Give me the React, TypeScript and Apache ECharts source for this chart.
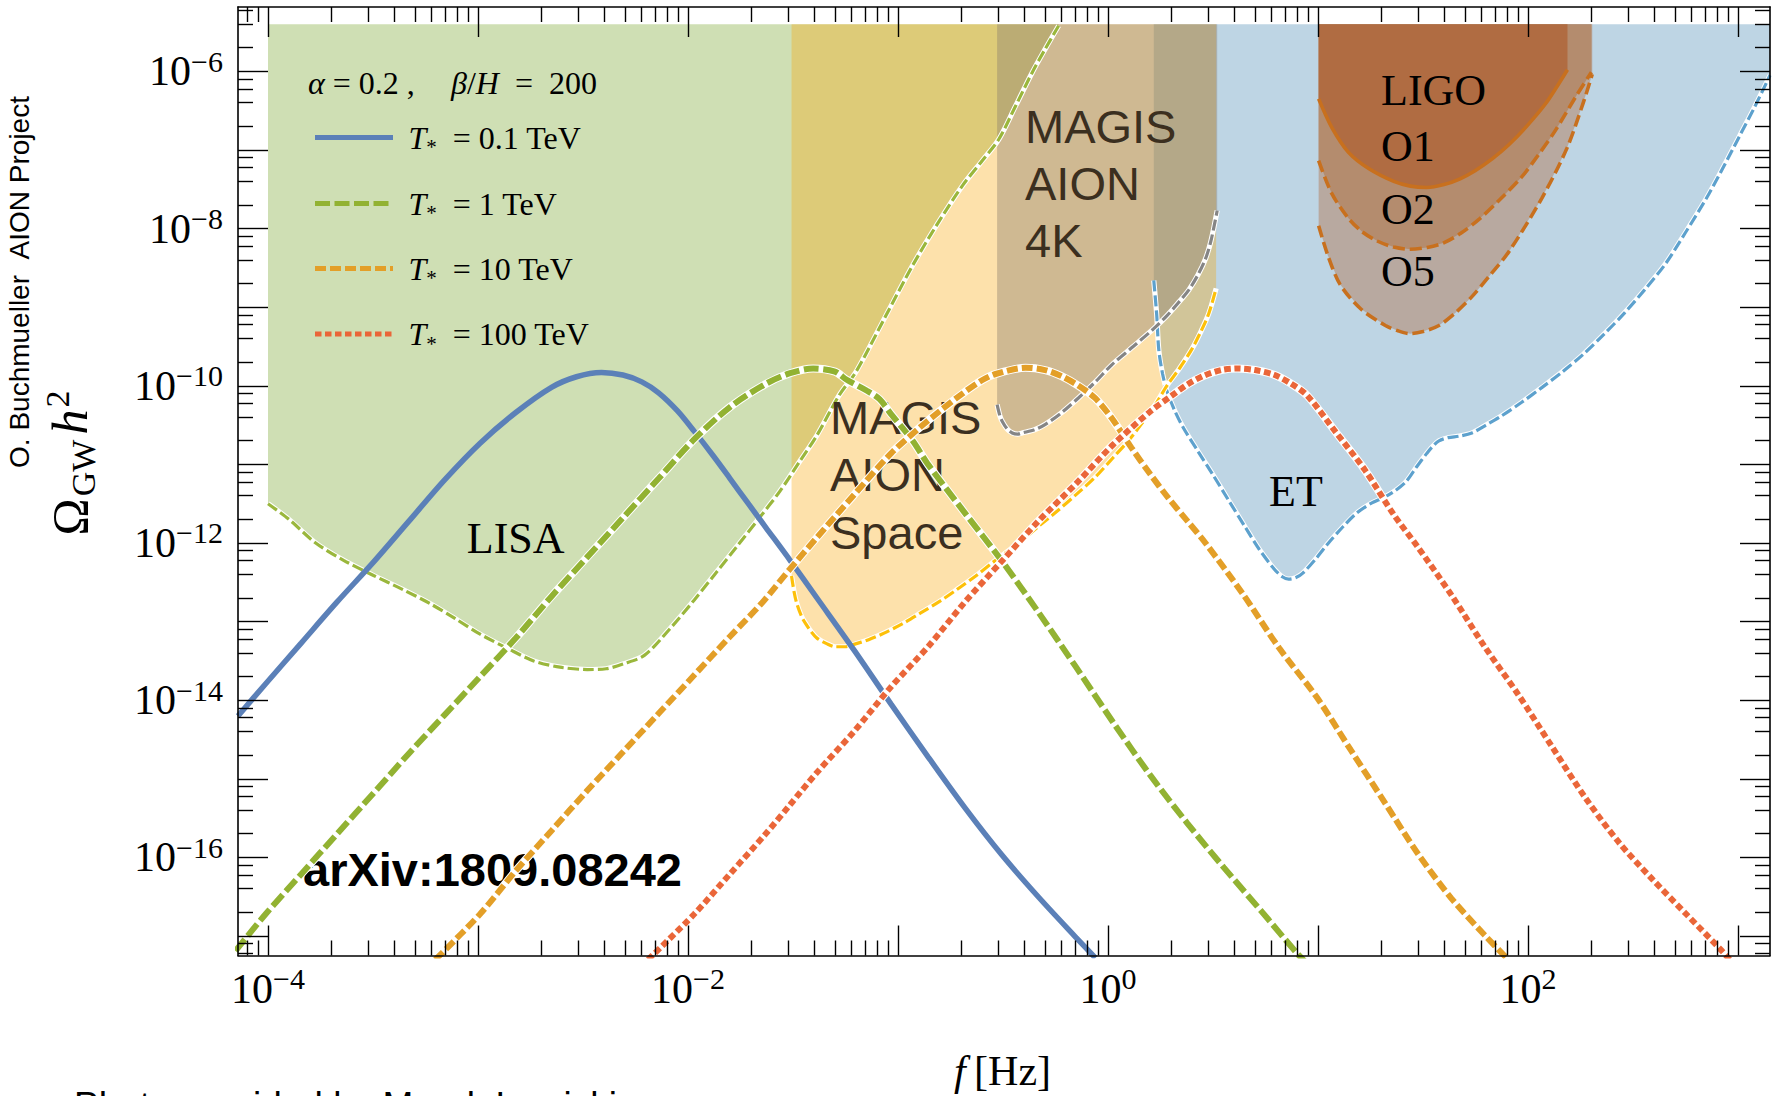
import { useEffect, useRef } from 'react';
import * as echarts from 'echarts';

// Both axes are in log10 units: x = log10(f / Hz), y = log10(Omega_GW h^2)
const LOG_F_MIN = -4.1429;
const LOG_F_MAX = 3.1524;
const LOG_OMEGA_MIN = -17.248;
const LOG_OMEGA_MAX = -5.181;
// upper edge of the shaded sensitivity regions
const SENS_TOP = -5.4;

// tick positions (decades) and labelled decades
const xDecades = [-4, -3, -2, -1, 0, 1, 2, 3];
const xLabelDecades = [-4, -2, 0, 2];
const yDecades = [-17, -16, -15, -14, -13, -12, -11, -10, -9, -8, -7, -6];
const yLabelDecades = [-16, -14, -12, -10, -8, -6];
const xMinorMultiples = [2, 3, 4, 5, 6, 7, 8, 9];
const yMinorMultiples = [2, 4, 6, 8];

// ---- sensitivity curves: [log10 f, log10 Omega h^2] ----
const lisaCurve = [
  [-4.0, -11.5], [-3.9, -11.7], [-3.773, -12.0], [-3.64, -12.22], [-3.5, -12.41], [-3.36, -12.59],
  [-3.229, -12.77], [-3.11, -12.96], [-2.99, -13.16], [-2.86, -13.34], [-2.735, -13.5], [-2.61, -13.58],
  [-2.48, -13.61], [-2.39, -13.6], [-2.31, -13.54], [-2.208, -13.43], [-2.089, -13.1], [-1.97, -12.725],
  [-1.87, -12.39], [-1.766, -12.04], [-1.66, -11.68], [-1.562, -11.34], [-1.47, -10.97], [-1.386, -10.63],
  [-1.28, -10.12], [-1.199, -9.818], [-1.06, -9.12], [-0.93, -8.467], [-0.81, -7.93], [-0.693, -7.454],
  [-0.6, -7.14], [-0.52, -6.864], [-0.44, -6.44], [-0.362, -6.02], [-0.3, -5.72], [-0.235, -5.42],
];

const etCurve = [
  [0.218, -8.66], [0.232, -9.1], [0.242, -9.547], [0.26, -9.85], [0.281, -10.07], [0.32, -10.33],
  [0.36, -10.54], [0.43, -10.84], [0.497, -11.12], [0.575, -11.46], [0.654, -11.8], [0.72, -12.08],
  [0.791, -12.33], [0.83, -12.43], [0.86, -12.46], [0.895, -12.44], [0.929, -12.38], [0.99, -12.2],
  [1.047, -12.01], [1.12, -11.79], [1.184, -11.62], [1.25, -11.5], [1.321, -11.41], [1.37, -11.33],
  [1.419, -11.22], [1.47, -11.03], [1.518, -10.86], [1.55, -10.76], [1.576, -10.7], [1.62, -10.66],
  [1.674, -10.64], [1.733, -10.6], [1.8, -10.5], [1.87, -10.39], [1.97, -10.21], [2.067, -10.02],
  [2.165, -9.82], [2.263, -9.6], [2.36, -9.35], [2.459, -9.075], [2.555, -8.78], [2.655, -8.447],
  [2.75, -8.05], [2.851, -7.608], [2.93, -7.22], [3.008, -6.82], [3.08, -6.45], [3.1524, -6.05],
];

const aionSpaceCurve = [
  [-1.507, -12.42], [-1.495, -12.62], [-1.483, -12.76], [-1.46, -12.93], [-1.439, -13.03], [-1.41, -13.14],
  [-1.386, -13.21], [-1.34, -13.28], [-1.298, -13.32], [-1.25, -13.32], [-1.21, -13.29], [-1.14, -13.23],
  [-1.069, -13.15], [-0.98, -13.03], [-0.892, -12.89], [-0.8, -12.74], [-0.716, -12.585], [-0.63, -12.42],
  [-0.54, -12.23], [-0.43, -12.01], [-0.329, -11.785], [-0.24, -11.59], [-0.152, -11.385], [-0.06, -11.16],
  [0.024, -10.915], [0.1, -10.69], [0.175, -10.43], [0.23, -10.22], [0.28, -10.0], [0.34, -9.78],
  [0.4, -9.53], [0.444, -9.3], [0.48, -9.08], [0.515, -8.76],
];

const aion4kCurve = [
  [-0.528, -10.24], [-0.515, -10.38], [-0.504, -10.45], [-0.48, -10.55], [-0.456, -10.6], [-0.43, -10.615],
  [-0.409, -10.6], [-0.35, -10.56], [-0.298, -10.49], [-0.22, -10.34], [-0.141, -10.155], [-0.06, -9.95],
  [0.018, -9.733], [0.12, -9.5], [0.215, -9.28], [0.28, -9.11], [0.333, -8.95], [0.385, -8.78],
  [0.43, -8.58], [0.465, -8.38], [0.49, -8.16], [0.52, -7.77],
];

const ligoO5Curve = [
  [1.003, -7.964], [1.047, -8.342], [1.105, -8.71], [1.203, -9.02], [1.321, -9.233], [1.38, -9.3],
  [1.439, -9.337], [1.5, -9.31], [1.576, -9.233], [1.655, -9.07], [1.733, -8.866], [1.82, -8.59],
  [1.91, -8.29], [2.067, -7.608], [2.185, -6.98], [2.263, -6.4], [2.306, -6.036],
];

const ligoO2Curve = [
  [1.003, -7.136], [1.066, -7.556], [1.145, -7.87], [1.21, -8.04], [1.282, -8.158], [1.36, -8.235],
  [1.439, -8.263], [1.52, -8.24], [1.596, -8.185], [1.68, -8.06], [1.772, -7.87], [1.87, -7.62],
  [1.969, -7.346], [2.05, -7.06], [2.126, -6.77], [2.233, -6.298], [2.302, -6.01],
];

const ligoO1Curve = [
  [1.003, -6.35], [1.066, -6.716], [1.145, -7.03], [1.243, -7.24], [1.361, -7.4], [1.44, -7.46],
  [1.518, -7.477], [1.6, -7.44], [1.674, -7.37], [1.75, -7.26], [1.831, -7.11], [1.91, -6.93],
  [1.988, -6.716], [2.087, -6.4], [2.188, -5.98],
];

// ---- phase-transition spectra, alpha = 0.2, beta/H = 200 ----
const spectrumT01 = [
  [-4.143, -14.2], [-4.011, -13.79], [-3.841, -13.27], [-3.671, -12.75], [-3.5, -12.25], [-3.33, -11.725],
  [-3.16, -11.2], [-2.99, -10.73], [-2.82, -10.34], [-2.65, -10.02], [-2.531, -9.885], [-2.412, -9.83],
  [-2.31, -9.863], [-2.22, -9.95], [-2.14, -10.09], [-2.05, -10.32], [-1.97, -10.58], [-1.88, -10.89],
  [-1.8, -11.18], [-1.71, -11.51], [-1.63, -11.8], [-1.514, -12.22], [-1.386, -12.7], [-1.21, -13.36],
  [-1.033, -14.05], [-0.857, -14.72], [-0.681, -15.37], [-0.505, -15.97], [-0.329, -16.51], [-0.152, -17.02],
  [-0.06, -17.28],
];

const spectrumT1 = [
  [-4.155, -17.19], [-4.011, -16.72], [-3.841, -16.21], [-3.671, -15.7], [-3.5, -15.19], [-3.33, -14.68],
  [-3.16, -14.19], [-2.99, -13.7], [-2.82, -13.21], [-2.65, -12.68], [-2.48, -12.18], [-2.31, -11.68],
  [-2.14, -11.18], [-1.97, -10.68], [-1.8, -10.27], [-1.63, -9.976], [-1.514, -9.84], [-1.404, -9.78],
  [-1.3, -9.82], [-1.246, -9.92], [-1.15, -10.06], [-1.088, -10.17], [-1.033, -10.36], [-0.93, -10.7],
  [-0.857, -11.0], [-0.681, -11.62], [-0.505, -12.23], [-0.329, -12.89], [-0.152, -13.58], [0.024, -14.28],
  [0.2, -14.95], [0.376, -15.56], [0.552, -16.13], [0.729, -16.68], [0.9, -17.22], [0.94, -17.33],
];

const spectrumT10 = [
  [-3.203, -17.3], [-2.99, -16.72], [-2.82, -16.17], [-2.65, -15.66], [-2.48, -15.15], [-2.31, -14.66],
  [-2.14, -14.17], [-1.97, -13.68], [-1.8, -13.19], [-1.647, -12.76], [-1.514, -12.33], [-1.386, -11.93],
  [-1.21, -11.39], [-1.033, -10.86], [-0.9, -10.54], [-0.8, -10.32], [-0.693, -10.1], [-0.6, -9.93],
  [-0.535, -9.85], [-0.393, -9.77], [-0.3, -9.8], [-0.219, -9.88], [-0.14, -10.0], [-0.062, -10.155],
  [0.02, -10.42], [0.112, -10.79], [0.2, -11.12], [0.288, -11.43], [0.381, -11.73], [0.464, -12.0],
  [0.64, -12.64], [0.816, -13.34], [0.996, -13.97], [1.155, -14.63], [1.315, -15.29], [1.475, -15.95],
  [1.635, -16.52], [1.794, -16.99], [1.906, -17.3],
];

const spectrumT100 = [
  [-2.19, -17.3], [-1.97, -16.72], [-1.8, -16.21], [-1.63, -15.7], [-1.514, -15.33], [-1.386, -14.92],
  [-1.21, -14.4], [-1.033, -13.83], [-0.857, -13.32], [-0.681, -12.75], [-0.505, -12.23], [-0.329, -11.715],
  [-0.152, -11.245], [0.024, -10.75], [0.2, -10.33], [0.301, -10.13], [0.38, -9.98], [0.458, -9.87],
  [0.54, -9.8], [0.615, -9.78], [0.7, -9.8], [0.791, -9.86], [0.87, -9.97], [0.949, -10.125],
  [1.086, -10.595], [1.223, -11.07], [1.361, -11.64], [1.475, -12.05], [1.635, -12.66], [1.794, -13.32],
  [1.954, -13.93], [2.114, -14.59], [2.274, -15.245], [2.433, -15.81], [2.593, -16.28], [2.753, -16.72],
  [2.913, -17.16], [2.96, -17.3],
];

const legendTemperatures = ['0.1', '1', '10', '100']; // T_* in TeV

const SERIF = '"Liberation Serif", "Times New Roman", serif';
const SANS = '"Liberation Sans", Arial, sans-serif';

const minorTicks = (multiples: number[], min: number, max: number) => {
  const out: number[] = [];
  for (let n = Math.floor(min) - 1; n <= Math.ceil(max); n++) {
    for (const k of multiples) {
      const v = n + Math.log10(k);
      if (v > min && v < max) out.push(v);
    }
  }
  return out;
};

const powerLabel = (v: number) => {
  const e = Math.round(v);
  const s = e < 0 ? '\u2212' + Math.abs(e) : String(e);
  return '{b|10}{s|' + s + '}';
};

const powerRich = {
  b: { fontFamily: SERIF, fontSize: 42, lineHeight: 50, color: '#000' },
  s: { fontFamily: SERIF, fontSize: 30, lineHeight: 30, verticalAlign: 'top', color: '#000' },
};

const FRAME = { show: true, onZero: false, lineStyle: { color: '#000', width: 1.6 } };
const TICK_STYLE = { color: '#000', width: 1.4 };

function axis(min: number, max: number, position: string, extra: any) {
  return {
    type: 'value',
    min,
    max,
    position,
    z: 6,
    splitLine: { show: false },
    axisLine: { show: false, onZero: false },
    axisTick: { show: false },
    axisLabel: { show: false },
    ...extra,
  };
}

function bandFill(curve: number[][], color: string, z: number) {
  return {
    type: 'custom',
    coordinateSystem: 'cartesian2d',
    silent: true,
    z,
    encode: { x: 0, y: 1 },
    data: curve,
    renderItem: (params: any, api: any) => {
      if (params.dataIndex !== 0) return null;
      const first = curve[0];
      const last = curve[curve.length - 1];
      const pts = [[first[0], SENS_TOP], ...curve, [last[0], SENS_TOP]].map((p) => api.coord(p));
      return { type: 'polygon', shape: { points: pts }, style: { fill: color, stroke: null } };
    },
  };
}

function curveLine(data: number[][], color: string, width: number, dash: any, z: number, halo: boolean) {
  const out: any[] = [];
  if (halo) {
    out.push({
      type: 'line', data, symbol: 'none', smooth: 0.3, silent: true, z,
      lineStyle: { color: '#ffffff', width: width + 2 },
    });
  }
  out.push({
    type: 'line', data, symbol: 'none', smooth: 0.3, silent: true, z,
    lineStyle: { color, width, type: dash },
  });
  return out;
}

export default function App() {
  const ref = useRef<HTMLDivElement>(null);

  useEffect(() => {
    if (!ref.current) return;
    const chart = echarts.init(ref.current, null, { renderer: 'svg' });

    const xMinor = minorTicks(xMinorMultiples, LOG_F_MIN, LOG_F_MAX);
    const yMinor = minorTicks(yMinorMultiples, LOG_OMEGA_MIN, LOG_OMEGA_MAX);

    const curveColors = ['#5b80b8', '#92b232', '#e39f28', '#ea6639'];
    const curveDashes: any[] = ['solid', [15, 4.5], [11, 4], [6.5, 3.5]];
    const curveWidths = [5.5, 6, 6, 6];
    const spectra = [spectrumT01, spectrumT1, spectrumT10, spectrumT100];

    const series: any[] = [
      bandFill(lisaCurve, '#cfdfb4', 2),
      ...curveLine(lisaCurve, '#9ab73c', 3.2, [11, 4], 2, true),
      bandFill(etCurve, '#bed5e4', 2),
      ...curveLine(etCurve, '#5da1cd', 3.2, [11, 4], 2, true),
      bandFill(aionSpaceCurve, 'rgba(249,164,0,0.33)', 2),
      ...curveLine(aionSpaceCurve, '#fdc009', 3.2, [11, 4], 2, true),
      bandFill(aion4kCurve, 'rgba(138,125,111,0.4)', 2),
      ...curveLine(aion4kCurve, '#858585', 3.2, [11, 4], 2, true),
      bandFill(ligoO5Curve, '#b8a9a0', 2),
      ...curveLine(ligoO5Curve, '#c8701e', 3.6, [12, 5], 2, false),
      bandFill(ligoO2Curve, '#b48c6e', 2),
      ...curveLine(ligoO2Curve, '#c8701e', 3.6, [12, 5], 2, false),
      bandFill(ligoO1Curve, '#b06c42', 2),
      ...curveLine(ligoO1Curve, '#c8701e', 3.6, 'solid', 2, false),
    ];
    spectra.forEach((s, i) => {
      series.push(...curveLine(s, curveColors[i], curveWidths[i], curveDashes[i], 4, i > 0));
    });

    const label = (text: string, x: number, y: number, font: any, extra: any = {}) => ({
      type: 'text', x, y, z: 3, silent: true,
      style: { text, fill: '#000', align: 'left', verticalAlign: 'middle', ...font, ...extra },
    });
    const serifBig = { fontFamily: SERIF, fontSize: 44 };
    const magisFont = { fontFamily: SANS, fontSize: 47, fill: '#3b2f1f' };

    const legendRowsY = [137.5, 203.6, 268.6, 334];
    const legendRich = {
      t: { fontFamily: SERIF, fontSize: 32, fontStyle: 'italic', lineHeight: 40 },
      a: { fontFamily: SERIF, fontSize: 21, lineHeight: 16, verticalAlign: 'bottom' },
      r: { fontFamily: SERIF, fontSize: 32, lineHeight: 40 },
    };

    const graphics: any[] = [
      // region labels
      label('LISA', 515.7, 538.6, serifBig, { align: 'center' }),
      label('ET', 1269, 491.8, serifBig),
      label('LIGO', 1381, 90.9, serifBig),
      label('O1', 1381, 146, serifBig),
      label('O2', 1381, 209, serifBig),
      label('O5', 1381, 271.3, serifBig),
      label('MAGIS', 1025, 126.4, magisFont),
      label('AION', 1025, 183.2, magisFont),
      label('4K', 1025, 240.8, magisFont),
      label('MAGIS', 830, 417.5, magisFont),
      label('AION', 830, 474.9, magisFont),
      label('Space', 830, 532.3, magisFont),
      label('arXiv:1809.08242', 303, 869, { fontFamily: SANS, fontSize: 47, fontWeight: 'bold' }),
      // legend header
      label('{i|\u03b1} = 0.2 ,', 308, 82.9, {
        rich: { i: { fontFamily: SERIF, fontSize: 32, fontStyle: 'italic' } },
        fontFamily: SERIF, fontSize: 32,
      }),
      label('{i|\u03b2}/{i|H}\u00a0 = \u00a0200', 451, 82.9, {
        rich: { i: { fontFamily: SERIF, fontSize: 32, fontStyle: 'italic' } },
        fontFamily: SERIF, fontSize: 32,
      }),
      // axis titles
      {
        type: 'text', x: 1002.5, y: 1071, z: 3, silent: true,
        style: {
          text: '{i|f}{r|\u2009[Hz]}', align: 'center', verticalAlign: 'middle', fill: '#000',
          rich: {
            i: { fontFamily: SERIF, fontSize: 42, fontStyle: 'italic', lineHeight: 50 },
            r: { fontFamily: SERIF, fontSize: 42, lineHeight: 50 },
          },
        },
      },
      {
        type: 'text', x: 70, y: 463, rotation: Math.PI / 2, z: 3, silent: true,
        style: {
          text: '{o|\u03a9}{g|GW}{h|h}{p|2}', align: 'center', verticalAlign: 'middle', fill: '#000',
          rich: {
            o: { fontFamily: SERIF, fontSize: 50, lineHeight: 60, padding: [0, 2, 0, 0] },
            g: { fontFamily: SERIF, fontSize: 34, lineHeight: 30, verticalAlign: 'bottom', padding: [0, 5, 0, 0] },
            h: { fontFamily: SERIF, fontSize: 50, fontStyle: 'italic', lineHeight: 60, padding: [0, 2, 0, 0] },
            p: { fontFamily: SERIF, fontSize: 34, lineHeight: 30, verticalAlign: 'top' },
          },
        },
      },
      {
        type: 'text', x: 19.5, y: 282, rotation: Math.PI / 2, z: 3, silent: true,
        style: {
          text: 'O. Buchmueller \u00a0AION Project', align: 'center', verticalAlign: 'middle',
          fill: '#000', fontFamily: SANS, fontSize: 28,
        },
      },
      label('Photo provided by Marek Lewicki', 74, 1105, { fontFamily: SANS, fontSize: 37 }),
    ];

    legendTemperatures.forEach((t, i) => {
      const y = legendRowsY[i];
      graphics.push({
        type: 'line', z: 3, silent: true,
        shape: { x1: 315, y1: y, x2: 393, y2: y },
        style: {
          stroke: curveColors[i], lineWidth: 5,
          lineDash: curveDashes[i] === 'solid' ? null : curveDashes[i],
        },
      });
      graphics.push(label('{t|T}{a|*}{r|\u00a0 = ' + t + ' TeV}', 408.5, y, { rich: legendRich }));
    });

    chart.setOption({
      animation: false,
      backgroundColor: '#ffffff',
      grid: {
        left: 238, right: 6, top: 7, bottom: 140.5,
        containLabel: false, outerBoundsMode: 'none',
        show: false,
      },
      xAxis: [
        axis(LOG_F_MIN, LOG_F_MAX, 'bottom', {
          axisLine: FRAME,
          axisTick: { show: true, inside: true, length: 30, customValues: xDecades, lineStyle: TICK_STYLE },
          axisLabel: {
            show: true, customValues: xLabelDecades, formatter: powerLabel, rich: powerRich,
            margin: 8, align: 'center', verticalAlign: 'top',
          },
        }),
        axis(LOG_F_MIN, LOG_F_MAX, 'bottom', {
          axisTick: { show: true, inside: true, length: 15, customValues: xMinor, lineStyle: TICK_STYLE },
        }),
        axis(LOG_F_MIN, LOG_F_MAX, 'top', {
          axisLine: FRAME,
          axisTick: { show: true, inside: true, length: 30, customValues: xDecades, lineStyle: TICK_STYLE },
        }),
        axis(LOG_F_MIN, LOG_F_MAX, 'top', {
          axisTick: { show: true, inside: true, length: 15, customValues: xMinor, lineStyle: TICK_STYLE },
        }),
      ],
      yAxis: [
        axis(LOG_OMEGA_MIN, LOG_OMEGA_MAX, 'left', {
          axisLine: FRAME,
          axisTick: { show: true, inside: true, length: 30, customValues: yDecades, lineStyle: TICK_STYLE },
          axisLabel: {
            show: true, customValues: yLabelDecades, formatter: powerLabel, rich: powerRich,
            margin: 15, align: 'right', verticalAlign: 'middle',
          },
        }),
        axis(LOG_OMEGA_MIN, LOG_OMEGA_MAX, 'left', {
          axisTick: { show: true, inside: true, length: 15, customValues: yMinor, lineStyle: TICK_STYLE },
        }),
        axis(LOG_OMEGA_MIN, LOG_OMEGA_MAX, 'right', {
          axisLine: FRAME,
          axisTick: { show: true, inside: true, length: 30, customValues: yDecades, lineStyle: TICK_STYLE },
        }),
        axis(LOG_OMEGA_MIN, LOG_OMEGA_MAX, 'right', {
          axisTick: { show: true, inside: true, length: 15, customValues: yMinor, lineStyle: TICK_STYLE },
        }),
      ],
      series,
      graphic: { elements: graphics },
    });

    return () => chart.dispose();
  }, []);

  return (
    <div
      ref={ref}
      style={{ position: 'fixed', left: 0, top: 0, width: 1776, height: 1096, background: '#ffffff' }}
    />
  );
}
